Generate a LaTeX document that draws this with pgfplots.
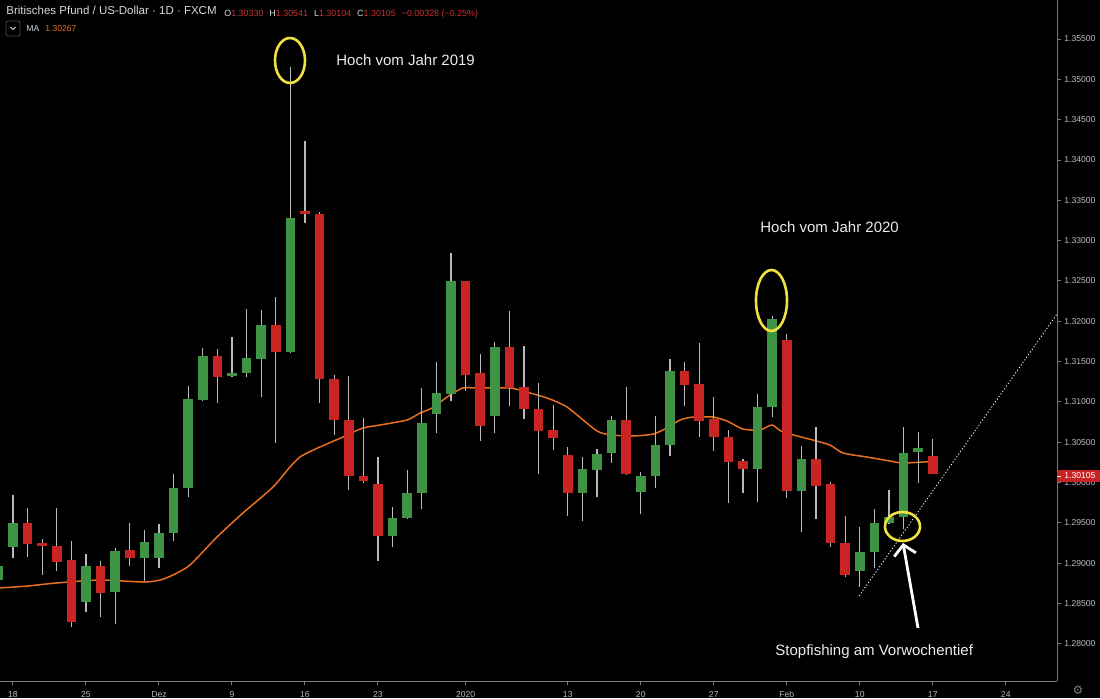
\documentclass[border=0pt]{standalone}
\usepackage{fontspec}
\setmainfont{Liberation Sans}
\newfontfamily\dejavu{DejaVu Sans}
\usepackage{pgfplots}
\usepackage{pgfplotstable}
\pgfplotsset{compat=1.18}
\usetikzlibrary{arrows.meta}

\definecolor{bull}{RGB}{62,148,68}
\definecolor{bear}{RGB}{200,36,36}
\definecolor{wick}{RGB}{185,185,190}
\definecolor{maorange}{RGB}{232,112,32}
\definecolor{axisgray}{RGB}{120,122,128}
\definecolor{ticktext}{RGB}{185,188,196}
\definecolor{hdr}{RGB}{214,216,222}
\definecolor{ringyellow}{RGB}{240,224,64}
\definecolor{valred}{RGB}{200,50,50}

% rising candles: index, open, high, low, close
\pgfplotstableread{
i o h l c
0 1.28792 1.29015 1.28742 1.28966
1 1.29201 1.29846 1.29065 1.29499
6 1.28519 1.29114 1.28395 1.28966
8 1.28643 1.29189 1.28246 1.29152
10 1.29065 1.29412 1.28780 1.29263
11 1.29065 1.29486 1.28941 1.29375
12 1.29375 1.30106 1.29276 1.29933
13 1.29933 1.31198 1.29821 1.31036
14 1.31024 1.31669 1.31012 1.31570
16 1.31322 1.31805 1.31309 1.31359
17 1.31359 1.32152 1.31309 1.31545
18 1.31532 1.32140 1.31061 1.31954
20 1.31619 1.35153 1.31607 1.33281
27 1.29338 1.29697 1.29201 1.29561
28 1.29561 1.30156 1.29548 1.29871
29 1.29871 1.31173 1.29672 1.30739
30 1.30850 1.31495 1.30615 1.31111
31 1.31098 1.32847 1.31012 1.32500
34 1.30826 1.31743 1.30615 1.31681
40 1.29871 1.30317 1.29524 1.30168
41 1.30156 1.30416 1.29821 1.30354
42 1.30367 1.30826 1.30243 1.30776
44 1.29883 1.30131 1.29610 1.30082
45 1.30082 1.30826 1.29933 1.30466
46 1.30466 1.31532 1.30330 1.31384
52 1.30168 1.31098 1.29759 1.30937
53 1.30937 1.32066 1.30813 1.32028
55 1.29896 1.30454 1.29387 1.30292
59 1.28904 1.29449 1.28705 1.29139
60 1.29139 1.29672 1.28941 1.29499
61 1.29499 1.29908 1.29486 1.29573
62 1.29573 1.30689 1.29424 1.30367
63 1.30379 1.30627 1.29995 1.30429
}\upcandles

% falling candles: index, open, high, low, close
\pgfplotstableread{
i o h l c
2 1.29499 1.29685 1.29077 1.29238
3 1.29251 1.29300 1.28854 1.29214
4 1.29214 1.29685 1.28904 1.29015
5 1.29040 1.29276 1.28209 1.28271
7 1.28966 1.29028 1.28333 1.28631
9 1.29164 1.29499 1.28966 1.29065
15 1.31570 1.31656 1.30987 1.31309
19 1.31954 1.32301 1.30491 1.31619
21 1.33368 1.34236 1.33219 1.33330
22 1.33330 1.33355 1.30987 1.31284
23 1.31284 1.31334 1.30590 1.30776
24 1.30776 1.31322 1.29908 1.30082
25 1.30082 1.30801 1.29995 1.30020
26 1.29982 1.30317 1.29028 1.29338
32 1.32500 1.32505 1.31136 1.31334
33 1.31359 1.31594 1.30516 1.30702
35 1.31681 1.32128 1.30950 1.31173
36 1.31185 1.31694 1.30788 1.30912
37 1.30912 1.31235 1.30106 1.30640
38 1.30652 1.30962 1.30404 1.30553
39 1.30342 1.30441 1.29586 1.29871
43 1.30776 1.31185 1.30094 1.30106
47 1.31384 1.31495 1.30950 1.31210
48 1.31222 1.31731 1.30565 1.30764
49 1.30788 1.31061 1.30392 1.30565
50 1.30565 1.30652 1.29747 1.30255
51 1.30268 1.30292 1.29871 1.30168
54 1.31768 1.31842 1.29809 1.29896
56 1.30292 1.30689 1.29548 1.29958
57 1.29982 1.30007 1.29201 1.29251
58 1.29251 1.29586 1.28829 1.28854
64 1.30330 1.30541 1.30104 1.30105
}\downcandles

\begin{document}
\begin{tikzpicture}
\fill[black] (0,-8.5pt) rectangle (550pt,340.5pt);
\begin{axis}[
  at={(0,0)}, anchor=south west,
  scale only axis, width=528.5pt, height=340.5pt,
  xmin=0.11, xmax=72.51, ymin=1.2754, ymax=1.35984,
  axis x line=bottom, axis y line=right,
  axis line style={-, draw=axisgray, line width=0.5pt},
  tick align=outside, major tick length=1.8pt,
  every tick/.style={draw=axisgray, line width=0.5pt},
  xtick={1,6,11,16,21,26,32,39,44,49,54,59,64,69},
  xticklabels={18,25,Dez,9,16,23,2020,13,20,27,Feb,10,17,24},
  ytick={1.28,1.285,1.29,1.295,1.30,1.305,1.31,1.315,1.32,1.325,1.33,1.335,1.34,1.345,1.35,1.355},
  scaled y ticks=false,
  /pgf/number format/assume math mode=true,
  yticklabel style={anchor=west, /pgf/number format/fixed, /pgf/number format/fixed zerofill, /pgf/number format/precision=5},
  tick label style={font=\fontsize{4.3}{5}\selectfont, text=ticktext, inner sep=0pt},
  xticklabel style={anchor=north},
  xticklabel shift=3.2pt,
  yticklabel shift=1.7pt,
]
% moving average
\addplot[maorange, line width=0.75pt, smooth, tension=0.4] coordinates {
(0,1.28693) (2.03,1.28718) (3.95,1.28755) (6.96,1.28792) (9.97,1.28767)
(11.07,1.28792) (11.96,1.28854) (13.12,1.28978) (14.97,1.29325) (16.75,1.29623)
(18.81,1.29945) (20.66,1.30317) (23.60,1.30565) (24.97,1.30677) (26.14,1.30714)
(27.99,1.30776) (28.88,1.30863) (29.70,1.30925) (30.93,1.31086) (31.82,1.31173)
(32.78,1.31173) (35.04,1.31173) (36.41,1.31111) (37.58,1.31049) (38.95,1.30937)
(41.00,1.30640) (42.10,1.30590) (43.47,1.30578) (44.84,1.30602) (45.79,1.30677)
(46.68,1.30776) (47.58,1.30813) (48.95,1.30813) (49.90,1.30764) (51.00,1.30664)
(52.16,1.30652) (52.99,1.30714) (53.74,1.30627) (55.79,1.30528) (56.96,1.30466)
(57.85,1.30367) (59.49,1.30317) (61.07,1.30268) (61.96,1.30243) (63.95,1.30262)
};
% wicks
\addplot[draw=wick, line width=0.55pt, quiver={u=0, v=\thisrow{h}-\thisrow{l}}]
  table[x=i, y=l] {\upcandles};
\addplot[draw=wick, line width=0.55pt, quiver={u=0, v=\thisrow{h}-\thisrow{l}}]
  table[x=i, y=l] {\downcandles};
% bodies
\addplot[draw=bull, line width=4.8pt, quiver={u=0, v=\thisrow{c}-\thisrow{o}}]
  table[x=i, y=o] {\upcandles};
\addplot[draw=bear, line width=4.8pt, quiver={u=0, v=\thisrow{o}-\thisrow{c}}]
  table[x=i, y=c] {\downcandles};
% trend line
\addplot[white, line width=0.4pt, dash pattern=on 0.6pt off 1pt] coordinates {(58.95,1.28594) (72.51,1.32090)};
\end{axis}

\begin{scope}[x=0.5pt, y=-0.5pt, shift={(0,340.5pt)}]
  % header
  \node[anchor=base west, inner sep=0, text=hdr, font=\fontsize{5.75}{6}\selectfont] at (6,15)
    {Britisches Pfund / US-Dollar · 1D · FXCM};
  \node[anchor=base west, inner sep=0, text=hdr, font=\fontsize{4.45}{5}\selectfont] at (224,16.5)
    {O\textcolor{valred}{1.30330}\hspace{3pt}H\textcolor{valred}{1.30541}\hspace{3pt}L\textcolor{valred}{1.30104}\hspace{3pt}C\textcolor{valred}{1.30105}\hspace{3pt}\textcolor{valred}{−0.00328 (−0.25\%)}};
  \draw[rounded corners=1pt, draw=gray!60!black, line width=0.4pt] (6,21) rectangle (20,36);
  \draw[hdr, line width=0.4pt] (10.5,27) -- (13,29.5) -- (15.5,27);
  \node[anchor=base west, inner sep=0, text=hdr, font=\fontsize{4.3}{5}\selectfont] at (26,32) {MA};
  \node[anchor=base west, inner sep=0, text=maorange, font=\fontsize{4.3}{5}\selectfont] at (45,32) {1.30267};
  % annotations
  \node[anchor=base west, inner sep=0, text=white!92!black, font=\fontsize{7.5}{9}\selectfont] at (336,66) {Hoch vom Jahr 2019};
  \node[anchor=base west, inner sep=0, text=white!92!black, font=\fontsize{7.5}{9}\selectfont] at (760,232) {Hoch vom Jahr 2020};
  \node[anchor=base west, inner sep=0, text=white!92!black, font=\fontsize{7.5}{9}\selectfont] at (775,655) {Stopfishing am Vorwochentief};
  \draw[ringyellow, line width=1.3pt] (290,60.5) ellipse [x radius=7.5pt, y radius=11.25pt];
  \draw[ringyellow, line width=1.3pt] (771.5,300.5) ellipse [x radius=7.75pt, y radius=15.25pt];
  \draw[ringyellow, line width=1.3pt] (902.5,526.5) ellipse [x radius=8.75pt, y radius=7.25pt];
  \draw[white, line width=1.4pt, -{Straight Barb[length=5pt,width=11pt]}] (918,628) -- (903,543);
  % last price label
  \fill[bear] (1057,470) rectangle (1100,482);
  \draw[white, line width=0.5pt] (1057,476) -- (1061,476);
  \node[anchor=west, inner sep=0, text=white, font=\fontsize{4.3}{5}\selectfont] at (1064,476) {1.30105};
  % settings icon
  \node[text=axisgray, inner sep=0, font=\dejavu\fontsize{6}{6}\selectfont] at (1078,690) {⚙};
\end{scope}
\pgfresetboundingbox
\path[use as bounding box] (0,-8.5pt) rectangle (550pt,340.5pt);
\end{tikzpicture}
\end{document}
